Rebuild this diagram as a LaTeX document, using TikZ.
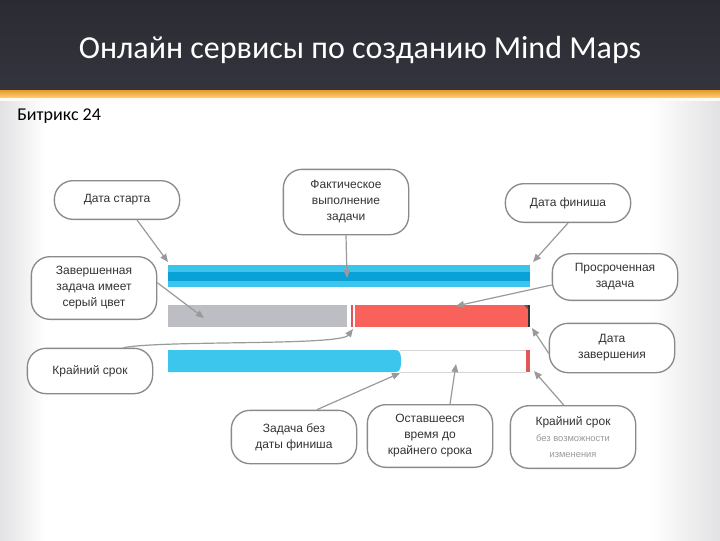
\documentclass[tikz,border=0pt]{standalone}
\usepackage{fontspec}
\setmainfont{Liberation Sans}
\newfontfamily\carlito{Carlito}
\usetikzlibrary{arrows.meta}
\definecolor{hdr}{HTML}{2B2B33}
\definecolor{hdrb}{HTML}{34343E}
\definecolor{orA}{HTML}{E39A2C}
\definecolor{orB}{HTML}{FFD27A}
\definecolor{calloutgray}{HTML}{8A8A8A}
\definecolor{conngray}{HTML}{9A9A9A}
\definecolor{textgray}{HTML}{333333}
\definecolor{lightgraytext}{HTML}{9A9A9A}
\definecolor{blueL}{HTML}{3CC4EC}
\definecolor{blueD}{HTML}{09A2D6}
\definecolor{blueB}{HTML}{3CC6EE}
\definecolor{barGray}{HTML}{BDBEC3}
\definecolor{barRed}{HTML}{F9625A}
\definecolor{markRed}{HTML}{E2565A}
\definecolor{edgeGray}{HTML}{E2E2E4}
\definecolor{lineGray}{HTML}{D6D6D8}
\begin{document}
\begin{tikzpicture}[x=0.75pt,y=-0.75pt,
  callout/.style={draw=calloutgray, line width=1pt, fill=white, rounded corners=14pt,
    align=center, font=\fontsize{9}{12}\selectfont, text=textgray,
    minimum width=94pt, inner sep=2pt},
  conn/.style={draw=conngray, line width=0.9pt, -{Triangle[length=6pt,width=5pt]}}]
\useasboundingbox (0,0) rectangle (720,540);
% background
\fill[white] (0,0) rectangle (720,540);
\shade[left color=edgeGray, right color=white] (0,98) rectangle (45,540);
\shade[left color=white, right color=edgeGray] (650,98) rectangle (720,540);
% header
\shade[top color=hdr, bottom color=hdrb] (0,0) rectangle (720,90);
\shade[top color=orA, bottom color=orB] (0,90) rectangle (720,98);
\fill[white!92!orB] (0,98) rectangle (720,101);
\node[text=white, font=\carlito\fontsize{24}{28}\selectfont] (title) at (360,50) {Онлайн сервисы по созданию Mind Maps};
\node[anchor=west, text=black, font=\carlito\fontsize{13.5}{16}\selectfont, inner sep=0pt] (brand) at (17,116) {Битрикс 24};
% bars
\node[fill=blueL, minimum width=271.5pt, minimum height=16.5pt, inner sep=0pt, anchor=north west] (bar1) at (168,265) {};
\fill[blueD] (168,271.5) rectangle (530,281);
\node[fill=barGray, minimum width=134pt, minimum height=16.5pt, inner sep=0pt, anchor=north west] (bar2g) at (168,305) {};
\fill[markRed] (350.5,305) rectangle (352.5,327);
\node[fill=barRed, minimum width=131pt, minimum height=16.5pt, inner sep=0pt, anchor=north west] (bar2r) at (354.5,305) {};
\fill[black!65] (524,305) -- (529,305) -- (529,310) -- cycle;
\draw[black!80, line width=0.8pt] (529,305) -- (529,327);
\draw[lineGray, line width=0.6pt] (400,350) -- (526,350) (400,372) -- (526,372);
\fill[blueB] (168,350) -- (396,350) to[out=0,in=90] (401,361) to[out=-90,in=0] (396,372) -- (168,372) -- cycle;
\node[fill=markRed, minimum width=3.5pt, minimum height=16.5pt, inner sep=0pt, anchor=north west] (mark3) at (525.5,350) {};
% callouts
\node[callout, minimum height=29pt] (startn) at (117,200) {Дата старта};
\node[callout, minimum height=49pt] (fact) at (346,202) {Фактическое\\выполнение\\задачи};
\node[callout, minimum height=29pt] (finish) at (568,203) {Дата финиша};
\node[callout, minimum height=47pt] (done) at (94,288) {Завершенная\\задача имеет\\серый цвет};
\node[callout, minimum height=35pt] (overdue) at (615,277) {Просроченная\\задача};
\node[callout, minimum height=37pt] (compl) at (612,348) {Дата\\завершения};
\node[callout, minimum height=34pt] (deadline) at (90,371) {Крайний срок};
\node[callout, minimum height=40pt] (nofinish) at (294,437) {Задача без\\даты финиша};
\node[callout, minimum height=47pt] (remain) at (430,436) {Оставшееся\\время до\\крайнего срока};
\node[callout, minimum height=47pt] (fixed) at (573,437) {Крайний срок\\{\color{lightgraytext}\fontsize{7}{11}\selectfont без возможности}\\{\color{lightgraytext}\fontsize{7}{11}\selectfont изменения}};
% targets
\coordinate (tStart) at (168,262);
\coordinate (tFact) at (347,278);
\coordinate (tFinish) at (533,262);
\coordinate (tDone) at (204,318);
\coordinate (tOver) at (456,306);
\coordinate (tDead) at (353,329);
\coordinate (tCompl) at (532,328);
\coordinate (tNoFin) at (400,373);
\coordinate (tRemain) at (456,364);
\coordinate (tFixed) at (534,371);
% connectors
\draw[conn] ([xshift=15pt]startn.south) -- (tStart);
\draw[conn] (fact.south) -- (tFact);
\draw[conn] (finish.south) -- (tFinish);
\draw[conn] ([yshift=4pt]done.east) -- (tDone);
\draw[conn] ([yshift=-6pt]overdue.west) -- (tOver);
\draw[conn] ([yshift=-4pt]compl.west) -- (tCompl);
\draw[conn] (deadline.35) .. controls (165,340) and (340,346) .. (tDead);
\draw[conn] (nofinish.50) -- (tNoFin);
\draw[conn] ([xshift=15pt]remain.north) -- (tRemain);
\draw[conn] ([xshift=-7pt]fixed.north) -- (tFixed);
\end{tikzpicture}
\end{document}
